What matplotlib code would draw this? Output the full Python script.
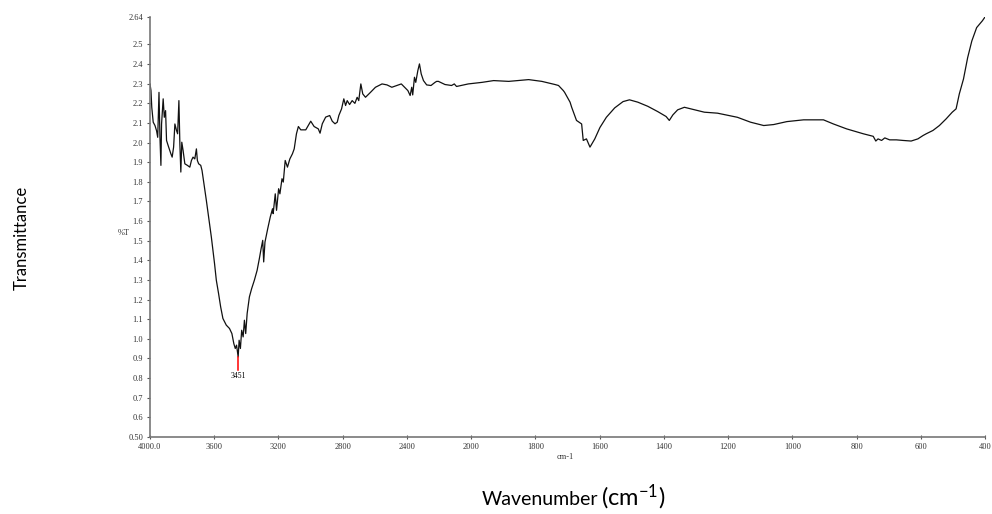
import numpy as np
import matplotlib
matplotlib.use("Agg")
import matplotlib.pyplot as plt

plt.rcParams["mathtext.fontset"] = "custom"
plt.rcParams["mathtext.rm"] = "Lato"
plt.rcParams["mathtext.it"] = "Lato"

# IR spectrum (wavenumber in cm-1, %T)
wavenumber = [4000, 3994, 3989, 3980, 3969, 3959, 3952, 3944, 3938, 3932,
              3928, 3918, 3911, 3903, 3897, 3887, 3870, 3862, 3853, 3845,
              3835, 3828, 3820, 3814, 3808, 3802, 3794, 3783, 3767, 3752,
              3742, 3732, 3721, 3711, 3705, 3697, 3684, 3676, 3664, 3649,
              3635, 3618, 3608, 3598, 3587, 3573, 3560, 3546, 3525, 3505,
              3490, 3478, 3469, 3461, 3451, 3445, 3437, 3429, 3420, 3412,
              3404, 3395, 3381, 3367, 3350, 3333, 3319, 3308, 3298, 3292,
              3284, 3267, 3251, 3237, 3233, 3220, 3212, 3199, 3191, 3178,
              3170, 3158, 3144, 3129, 3113, 3102, 3088, 3076, 3061, 3030,
              2999, 2978, 2952, 2941, 2927, 2906, 2881, 2865, 2848, 2834,
              2824, 2807, 2793, 2782, 2772, 2757, 2741, 2724, 2710, 2700,
              2687, 2675, 2658, 2627, 2596, 2555, 2524, 2494, 2463, 2435,
              2410, 2394, 2380, 2370, 2364, 2353, 2345, 2332, 2322, 2311,
              2297, 2277, 2250, 2225, 2215, 2204, 2163, 2122, 2105, 2091,
              2018, 1966, 1930, 1883, 1821, 1780, 1739, 1728, 1713, 1709,
              1692, 1687, 1672, 1656, 1651, 1641, 1630, 1615, 1599, 1579,
              1553, 1527, 1507, 1481, 1450, 1419, 1393, 1383, 1372, 1357,
              1336, 1316, 1274, 1233, 1171, 1130, 1089, 1058, 1017, 965,
              903, 872, 831, 779, 748, 740, 733, 722, 712, 697,
              676, 655, 630, 609, 593, 583, 562, 542, 521, 502,
              490, 480, 467, 454, 441, 426, 408, 400]
transmittance = [2.299, 2.265, 2.180, 2.104, 2.087, 2.060, 2.027, 2.256, 2.027, 1.884,
                 2.095, 2.223, 2.129, 2.163, 2.011, 1.985, 1.943, 1.926, 1.977, 2.095,
                 2.062, 2.045, 2.214, 1.994, 1.850, 2.002, 1.960, 1.892, 1.884, 1.875,
                 1.909, 1.926, 1.917, 1.968, 1.909, 1.892, 1.884, 1.858, 1.790, 1.705,
                 1.621, 1.519, 1.451, 1.383, 1.299, 1.231, 1.163, 1.104, 1.070, 1.053,
                 1.027, 0.976, 0.951, 0.968, 0.908, 0.993, 0.951, 1.044, 1.010, 1.095,
                 1.027, 1.129, 1.214, 1.256, 1.299, 1.349, 1.409, 1.460, 1.502, 1.392,
                 1.493, 1.561, 1.621, 1.663, 1.638, 1.739, 1.655, 1.765, 1.739, 1.816,
                 1.799, 1.909, 1.875, 1.917, 1.943, 1.968, 2.045, 2.082, 2.065, 2.065,
                 2.109, 2.082, 2.070, 2.048, 2.096, 2.130, 2.138, 2.109, 2.096, 2.104,
                 2.138, 2.172, 2.223, 2.189, 2.214, 2.194, 2.214, 2.200, 2.231, 2.214,
                 2.299, 2.248, 2.231, 2.256, 2.282, 2.299, 2.294, 2.282, 2.291, 2.299,
                 2.278, 2.265, 2.240, 2.282, 2.243, 2.333, 2.307, 2.367, 2.401, 2.350,
                 2.316, 2.294, 2.291, 2.307, 2.312, 2.312, 2.296, 2.291, 2.299, 2.286,
                 2.299, 2.307, 2.316, 2.312, 2.321, 2.312, 2.296, 2.291, 2.265, 2.256,
                 2.206, 2.180, 2.113, 2.095, 2.011, 2.019, 1.977, 2.019, 2.077, 2.129,
                 2.177, 2.209, 2.218, 2.206, 2.185, 2.158, 2.133, 2.113, 2.141, 2.167,
                 2.180, 2.172, 2.155, 2.150, 2.129, 2.104, 2.087, 2.092, 2.107, 2.116,
                 2.116, 2.095, 2.070, 2.045, 2.032, 2.008, 2.019, 2.011, 2.024, 2.014,
                 2.014, 2.011, 2.008, 2.019, 2.036, 2.045, 2.062, 2.087, 2.121, 2.155,
                 2.172, 2.248, 2.324, 2.433, 2.518, 2.586, 2.621, 2.640]

x_ticks = [4000, 3600, 3200, 2800, 2400, 2000, 1800, 1600, 1400, 1200, 1000, 800, 600, 400]
x_labels = ["4000.0", "3600", "3200", "2800", "2400", "2000", "1800", "1600",
            "1400", "1200", "1000", "800", "600", "400"]
y_ticks = [0.5, 0.6, 0.7, 0.8, 0.9, 1.0, 1.1, 1.2, 1.3, 1.4, 1.5, 1.6, 1.7, 1.8,
           1.9, 2.0, 2.1, 2.2, 2.3, 2.4, 2.5, 2.64]
y_labels = ["0.50"] + ["%.1f" % v for v in y_ticks[1:-1]] + ["2.64"]

peak_pos = 3451
peak_top = 0.907
peak_bottom = 0.841


# instrument scale: 400 cm-1 per division above 2000, 200 below
def forward(w):
    w = np.asarray(w, dtype=float)
    return np.where(w > 2000, 10 + (w - 2000) / 400.0, w / 200.0)


def inverse(p):
    p = np.asarray(p, dtype=float)
    return np.where(p > 10, 2000 + (p - 10) * 400.0, p * 200.0)


fig = plt.figure(figsize=(9.92, 5.14), dpi=100)
ax = fig.add_axes([150 / 992, 1 - 437 / 514, 835 / 992, 420 / 514])

ax.plot(wavenumber, transmittance, color="#111111", lw=0.9)
ax.plot([peak_pos, peak_pos], [peak_top, peak_bottom], color="red", lw=1.1)
ax.text(peak_pos, peak_bottom - 0.01, "3451", ha="center", va="top",
        fontsize=5.5, family="Liberation Serif")

ax.set_xscale("function", functions=(forward, inverse))
ax.set_xlim(4000, 400)
ax.set_ylim(0.5, 2.64)
ax.set_xticks(x_ticks)
ax.set_xticklabels(x_labels)
ax.set_yticks(y_ticks)
ax.set_yticklabels(y_labels)
ax.minorticks_off()

for s in ["top", "right"]:
    ax.spines[s].set_visible(False)
for s in ["left", "bottom"]:
    ax.spines[s].set_color("#777777")
    ax.spines[s].set_linewidth(1.2)

ax.tick_params(axis="x", direction="inout", length=3, width=0.8, color="#555555",
               pad=3, labelsize=6)
ax.tick_params(axis="y", direction="out", length=2, width=0.8, color="#555555",
               pad=3, labelsize=6)
for lab in ax.get_xticklabels() + ax.get_yticklabels():
    lab.set_family("Liberation Serif")
    lab.set_color("#333333")

ax.text(-0.031, 0.486, "%T", transform=ax.transAxes, ha="center", va="center",
        fontsize=6, family="Liberation Serif", color="#333333")
ax.text(0.497, -0.047, "cm-1", transform=ax.transAxes, ha="center", va="center",
        fontsize=6, family="Liberation Serif", color="#333333")

fig.text(22 / 992, 1 - 238 / 514, "Transmittance", rotation=90, ha="center",
         va="center", fontsize=12, family="Lato")
fig.text(598 / 992, 1 - 505 / 514, "Wavenumber", ha="right", va="baseline",
         fontsize=14, family="Lato")
fig.text(601 / 992, 1 - 505 / 514, "(cm$^{-1}$)", ha="left", va="baseline",
         fontsize=17, family="Lato")

fig.savefig("out.png", dpi=100)
